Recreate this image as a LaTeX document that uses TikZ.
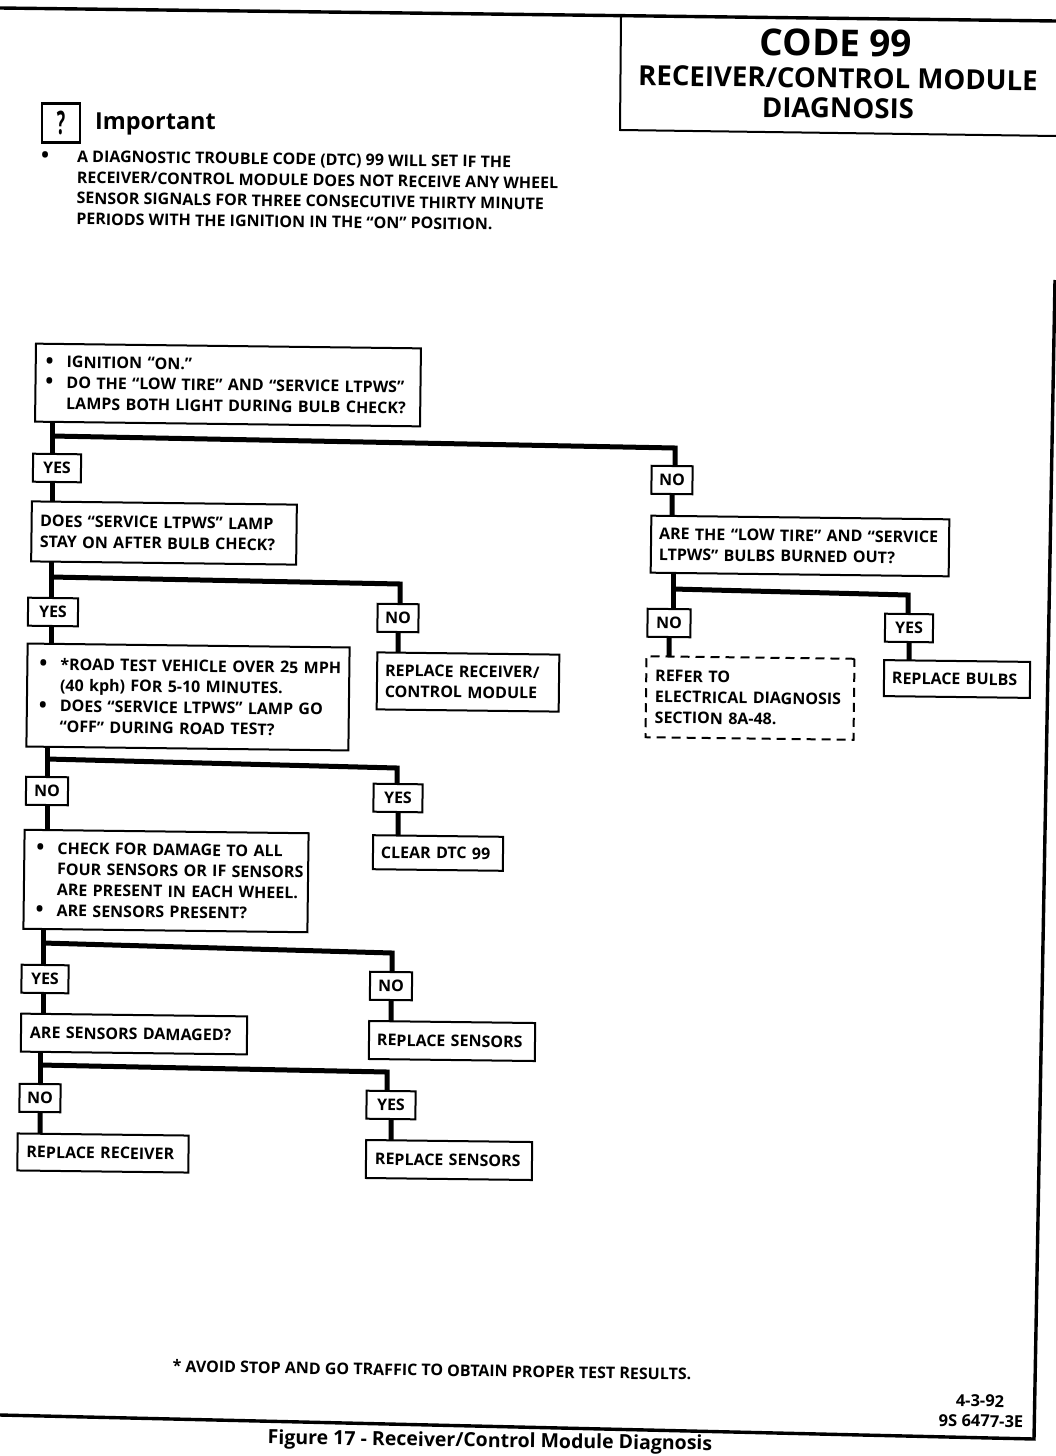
\documentclass[tikz,border=0pt]{standalone}
\usepackage{fontspec}
\setmainfont{Open Sans}
\usetikzlibrary{backgrounds}
\newdimen\lead
\lead=0pt
\newcommand{\bl}{\hspace*{\lead}\makebox[21pt][l]{\raisebox{-0.5pt}[0pt][0pt]{\fontsize{21}{21}\selectfont\textbullet}}}
\newcommand{\ind}{\hspace*{\lead}\hspace*{21pt}}
\tikzset{
  x=1pt,y=-1pt,
  skew/.style={rotate=-0.7},
  boxbase/.style={draw=black,line width=2pt,fill=white,inner sep=0pt,skew,
     font=\bfseries\fontsize{16}{20.8}\selectfont},
  lab/.style={boxbase,minimum width=#1,minimum height=28pt,align=center},
  conn/.style={draw=black,line width=5pt},
  hline/.style={draw=black,line width=3.4pt},
  ptext/.style={inner sep=0pt,skew,font=\bfseries\fontsize{16}{20.8}\selectfont,align=left},
}
\begin{document}
\begin{tikzpicture}
\useasboundingbox (0,0) rectangle (1056,1456);
% page frame
\coordinate (tl) at (0,8); \coordinate (tr) at (1056,21);
\coordinate (bl) at (0,1415); \coordinate (br) at (1034,1439);
\coordinate (rt) at (1055,280);
\draw[hline] (tl) -- (tr);
\draw[hline] (bl) -- (br) -- (rt);
% title
\coordinate (tb1) at (621,17); \coordinate (tb2) at (620,130); \coordinate (tb3) at (1056,136);
\draw[line width=2pt] (tb1) -- (tb2) -- (tb3);
\node[inner sep=0pt,skew,font=\bfseries\fontsize{37}{37}\selectfont] (t1) at (836,43) {CODE 99};
\node[inner sep=0pt,skew,font=\bfseries\fontsize{27.6}{27.6}\selectfont,text height=20pt,text depth=0pt] (t2) at (838,78) {RECEIVER/CONTROL MODULE};
\node[inner sep=0pt,skew,font=\bfseries\fontsize{27.6}{27.6}\selectfont,text height=20pt,text depth=0pt] (t3) at (838,108) {DIAGNOSIS};
% important
\node[draw,line width=2.6pt,minimum width=38pt,minimum height=39pt,inner sep=0pt,font=\bfseries\fontsize{27}{27}\selectfont] (ic) at (61,123) {\scalebox{0.65}[1.2]{?}};
\node[inner sep=0pt,anchor=west,font=\fontsize{23.4}{23.4}\selectfont\bfseries] (imp) at (95,124) {Important};
\node[ptext,anchor=north west] (impb) at (39,150) {\makebox[38pt][l]{\hspace*{2pt}\raisebox{-0.5pt}[0pt][0pt]{\fontsize{21}{21}\selectfont\textbullet}}A DIAGNOSTIC TROUBLE CODE (DTC) 99 WILL SET IF THE\\
\hspace*{38pt}RECEIVER/CONTROL MODULE DOES NOT RECEIVE ANY WHEEL\\
\hspace*{38pt}SENSOR SIGNALS FOR THREE CONSECUTIVE THIRTY MINUTE\\
\hspace*{38pt}PERIODS WITH THE IGNITION IN THE ``ON'' POSITION.};
% question boxes
\node[boxbase,minimum width=385pt,minimum height=78pt,align=left,text width=365pt] (q1) at (228,385) {\bl IGNITION ``ON.''\\\bl DO THE ``LOW TIRE'' AND ``SERVICE LTPWS''\\\ind LAMPS BOTH LIGHT DURING BULB CHECK?};
\node[boxbase,minimum width=265pt,minimum height=60pt,align=left,text width=248pt] (q2) at (164,533) {DOES ``SERVICE LTPWS'' LAMP\\STAY ON AFTER BULB CHECK?};
\node[boxbase,minimum width=322pt,minimum height=103pt,align=left,text width=310pt] (q3) at (188,697) {\lead=6pt\bl *ROAD TEST VEHICLE OVER 25 MPH\\\lead=6pt\ind (40 kph) FOR 5-10 MINUTES.\\\lead=6pt\bl DOES ``SERVICE LTPWS'' LAMP GO\\\lead=6pt\ind ``OFF'' DURING ROAD TEST?};
\node[boxbase,minimum width=298pt,minimum height=57pt,align=left,text width=282pt] (q4) at (800,546) {ARE THE ``LOW TIRE'' AND ``SERVICE\\LTPWS'' BULBS BURNED OUT?};
\node[boxbase,minimum width=284pt,minimum height=99pt,align=left,text width=280pt] (q5) at (166,881) {\lead=10pt\bl CHECK FOR DAMAGE TO ALL\\\lead=10pt\ind FOUR SENSORS OR IF SENSORS\\\lead=10pt\ind ARE PRESENT IN EACH WHEEL.\\\lead=10pt\bl ARE SENSORS PRESENT?};
\node[boxbase,minimum width=226pt,minimum height=38pt,align=left,text width=208pt] (q6) at (134,1034) {ARE SENSORS DAMAGED?};
% result boxes
\node[boxbase,minimum width=182pt,minimum height=57pt,align=left,text width=166pt] (r1) at (468,682) {REPLACE RECEIVER/\\CONTROL MODULE};
\node[boxbase,minimum width=146pt,minimum height=36pt,align=left,text width=130pt] (r2) at (957,679) {REPLACE BULBS};
\node[boxbase,dashed,dash pattern=on 9pt off 6pt,minimum width=208pt,minimum height=81pt,align=left,text width=190pt] (r3) at (750,698) {REFER TO\\ELECTRICAL DIAGNOSIS\\SECTION 8A-48.};
\node[boxbase,minimum width=130pt,minimum height=34pt,align=left,text width=114pt] (r4) at (438,853) {CLEAR DTC 99};
\node[boxbase,minimum width=166pt,minimum height=38pt,align=left,text width=150pt] (r5) at (452,1041) {REPLACE SENSORS};
\node[boxbase,minimum width=171pt,minimum height=37pt,align=left,text width=153pt] (r6) at (103,1153) {REPLACE RECEIVER};
\node[boxbase,minimum width=166pt,minimum height=38pt,align=left,text width=148pt] (r7) at (449,1160) {REPLACE SENSORS};
% yes/no
\node[lab=48pt] (y1) at (57,468) {YES};
\node[lab=41pt] (n1) at (672,480) {NO};
\node[lab=50pt] (y2) at (53,612) {YES};
\node[lab=41pt] (n2) at (398,618) {NO};
\node[lab=43pt] (n3) at (669,623) {NO};
\node[lab=48pt] (y3) at (909,628) {YES};
\node[lab=42pt] (n4) at (47,791) {NO};
\node[lab=49pt] (y4) at (398,798) {YES};
\node[lab=47pt] (y5) at (45,979) {YES};
\node[lab=42pt] (n5) at (391,986) {NO};
\node[lab=41pt] (n6) at (40,1098) {NO};
\node[lab=49pt] (y6) at (391,1105) {YES};
% branch points
\coordinate (j1) at (52,436); \coordinate (e1) at (675,448);
\coordinate (j2) at (51,577); \coordinate (e2) at (400,584);
\coordinate (j3) at (47,759); \coordinate (e3) at (397,768);
\coordinate (j4) at (673,589); \coordinate (e4) at (908,595);
\coordinate (j5) at (43,943); \coordinate (e5) at (392,953);
\coordinate (j6) at (40,1065); \coordinate (e6) at (387,1072);
\begin{scope}[on background layer]
\draw[conn] (j1 |- q1) -- (j1 |- y1); \draw[conn] (j1 |- y1) -- (j1 |- q2);
\draw[conn] (j1) -- (e1) -- (e1 |- n1); \draw[conn] (n1) -- (n1 |- q4);
\draw[conn] (j2 |- q2) -- (j2 |- y2); \draw[conn] (j2 |- y2) -- (j2 |- q3);
\draw[conn] (j2) -- (e2) -- (e2 |- n2); \draw[conn] (n2) -- (n2 |- r1);
\draw[conn] (j3 |- q3) -- (j3 |- n4); \draw[conn] (j3 |- n4) -- (j3 |- q5);
\draw[conn] (j3) -- (e3) -- (e3 |- y4); \draw[conn] (y4) -- (y4 |- r4);
\draw[conn] (j4 |- q4) -- (j4 |- n3); \draw[conn] (n3) -- (n3 |- r3);
\draw[conn] (j4) -- (e4) -- (e4 |- y3); \draw[conn] (y3) -- (y3 |- r2);
\draw[conn] (j5 |- q5) -- (j5 |- y5); \draw[conn] (j5 |- y5) -- (j5 |- q6);
\draw[conn] (j5) -- (e5) -- (e5 |- n5); \draw[conn] (n5) -- (n5 |- r5);
\draw[conn] (j6 |- q6) -- (j6 |- n6); \draw[conn] (n6) -- (n6 |- r6);
\draw[conn] (j6) -- (e6) -- (e6 |- y6); \draw[conn] (y6) -- (y6 |- r7);
\end{scope}
% footer
\node[ptext,rotate=-0.2] (fn) at (432,1370) {* AVOID STOP AND GO TRAFFIC TO OBTAIN PROPER TEST RESULTS.};
\node[ptext,font=\bfseries\fontsize{16.5}{17}\selectfont] (d1) at (980,1401) {4-3-92};
\node[ptext,font=\bfseries\fontsize{16.5}{17}\selectfont] (d2) at (981,1421) {9S 6477-3E};
\node[inner sep=0pt,rotate=-0.8,font=\bfseries\fontsize{19.5}{20}\selectfont] (fig) at (490,1442) {Figure 17 - Receiver/Control Module Diagnosis};
\end{tikzpicture}
\end{document}
